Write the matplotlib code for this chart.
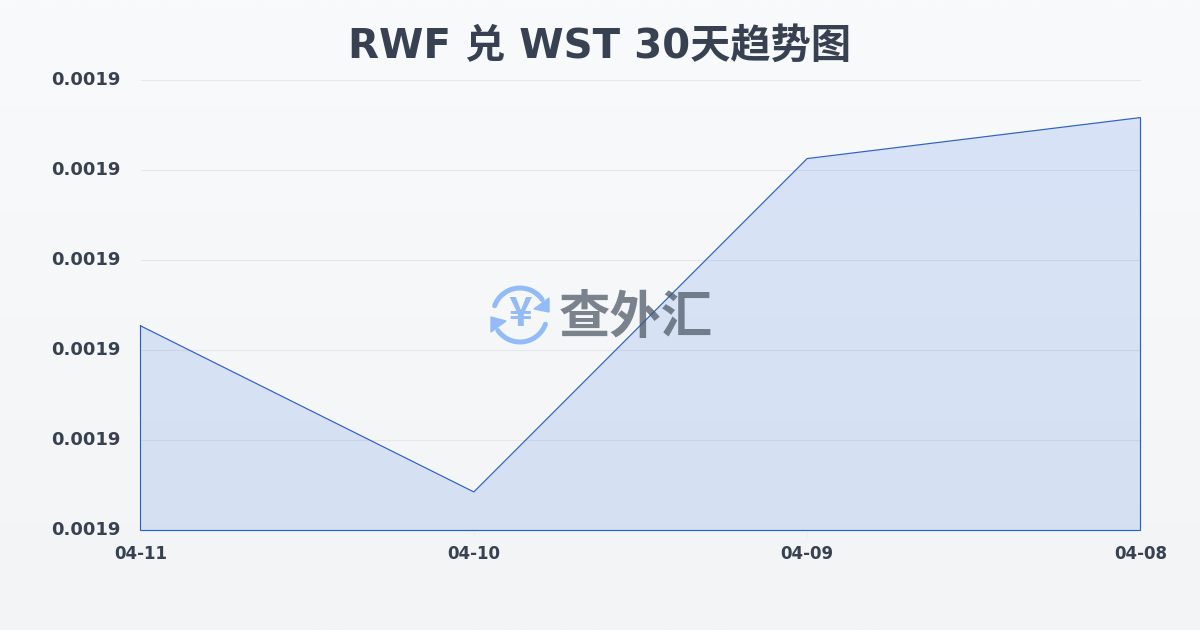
import numpy as np
import matplotlib.pyplot as plt
from matplotlib.patches import Arc, Polygon
from matplotlib.transforms import ScaledTranslation

plt.switch_backend('agg')
plt.rcParams['font.family'] = ['DejaVu Sans', 'Noto Sans CJK SC']

# data
dates = ['04-11', '04-10', '04-09', '04-08']
rates = [0.00190272, 0.00188428, 0.00192128, 0.00192583]
y_ticks = [0.00188, 0.00189, 0.00190, 0.00191, 0.00192, 0.00193]

title = 'RWF 兑 WST 30天趋势图'
text_color = '#374151'
line_color = '#2b5fd0'

fig = plt.figure(figsize=(12, 6.3), dpi=100)

# background gradient
bg = fig.add_axes([0, 0, 1, 1], zorder=0)
bg.imshow(np.linspace(0, 1, 256).reshape(-1, 1),
          cmap=plt.cm.colors.LinearSegmentedColormap.from_list('bg', ['#f8fafc', '#f3f4f6']),
          aspect='auto', extent=[0, 1, 0, 1])
bg.axis('off')

# plot area
ax = fig.add_axes([140.5 / 1200, 1 - 530.5 / 630, 1000 / 1200, 450.5 / 630], zorder=1)
ax.patch.set_alpha(0)

x = np.arange(len(dates))
ax.fill_between(x, rates, y_ticks[0], facecolor='#2f6ae0', alpha=0.15, linewidth=0)
ax.plot(list(x) + [x[-1], x[0], x[0]],
        rates + [y_ticks[0], y_ticks[0], rates[0]],
        color=line_color, linewidth=0.85, solid_joinstyle='miter', clip_on=False)

ax.set_xlim(x[0], x[-1])
ax.set_ylim(y_ticks[0], y_ticks[-1])
ax.set_xticks(x)
ax.set_xticklabels(dates)
ax.set_yticks(y_ticks)
ax.set_yticklabels(['%.4f' % v for v in y_ticks])
ax.grid(axis='y', color='#e5e7eb', linewidth=0.8)
ax.set_axisbelow(True)
for s in ax.spines.values():
    s.set_visible(False)
ax.tick_params(axis='x', length=5, width=0.6, color='#eceef1', pad=5.5,
               labelsize=12, labelcolor=text_color)
ax.tick_params(axis='y', length=0, pad=14.5, labelsize=13, labelcolor=text_color)
for lab in ax.get_xticklabels():
    lab.set_fontweight('bold')
# y labels sit a little above their gridlines
up = ScaledTranslation(0, 2 / 100, fig.dpi_scale_trans)
for lab in ax.get_yticklabels():
    lab.set_fontweight('bold')
    lab.set_transform(lab.get_transform() + up)

fig.text(0.5, 1 - 47 / 630, title, ha='center', va='center',
         fontsize=29, fontweight='bold', color=text_color)

# watermark, in pixel coordinates
wm = fig.add_axes([0, 0, 1, 1], zorder=2)
wm.set_xlim(0, 1200)
wm.set_ylim(630, 0)
wm.axis('off')
blue = '#93bbf8'
wm.add_patch(Arc((520, 315), 54, 54, theta1=200, theta2=325, color=blue, lw=3.6, capstyle='round'))
wm.add_patch(Arc((520, 315), 54, 54, theta1=20, theta2=145, color=blue, lw=3.6, capstyle='round'))
wm.add_patch(Polygon([[549, 298], [549, 312], [534, 309]], color=blue, lw=1))
wm.add_patch(Polygon([[491, 317], [506, 321], [491, 332]], color=blue, lw=1))
wm.text(520, 315, '¥', ha='center', va='center', fontsize=29, fontweight='bold',
        color=blue, family='Noto Sans CJK SC')
wm.text(636, 318, '查外汇', ha='center', va='center', fontsize=37, fontweight='bold',
        color='#4b5563', alpha=0.72, family='Noto Sans CJK SC')

fig.savefig('out.png', dpi=100)
